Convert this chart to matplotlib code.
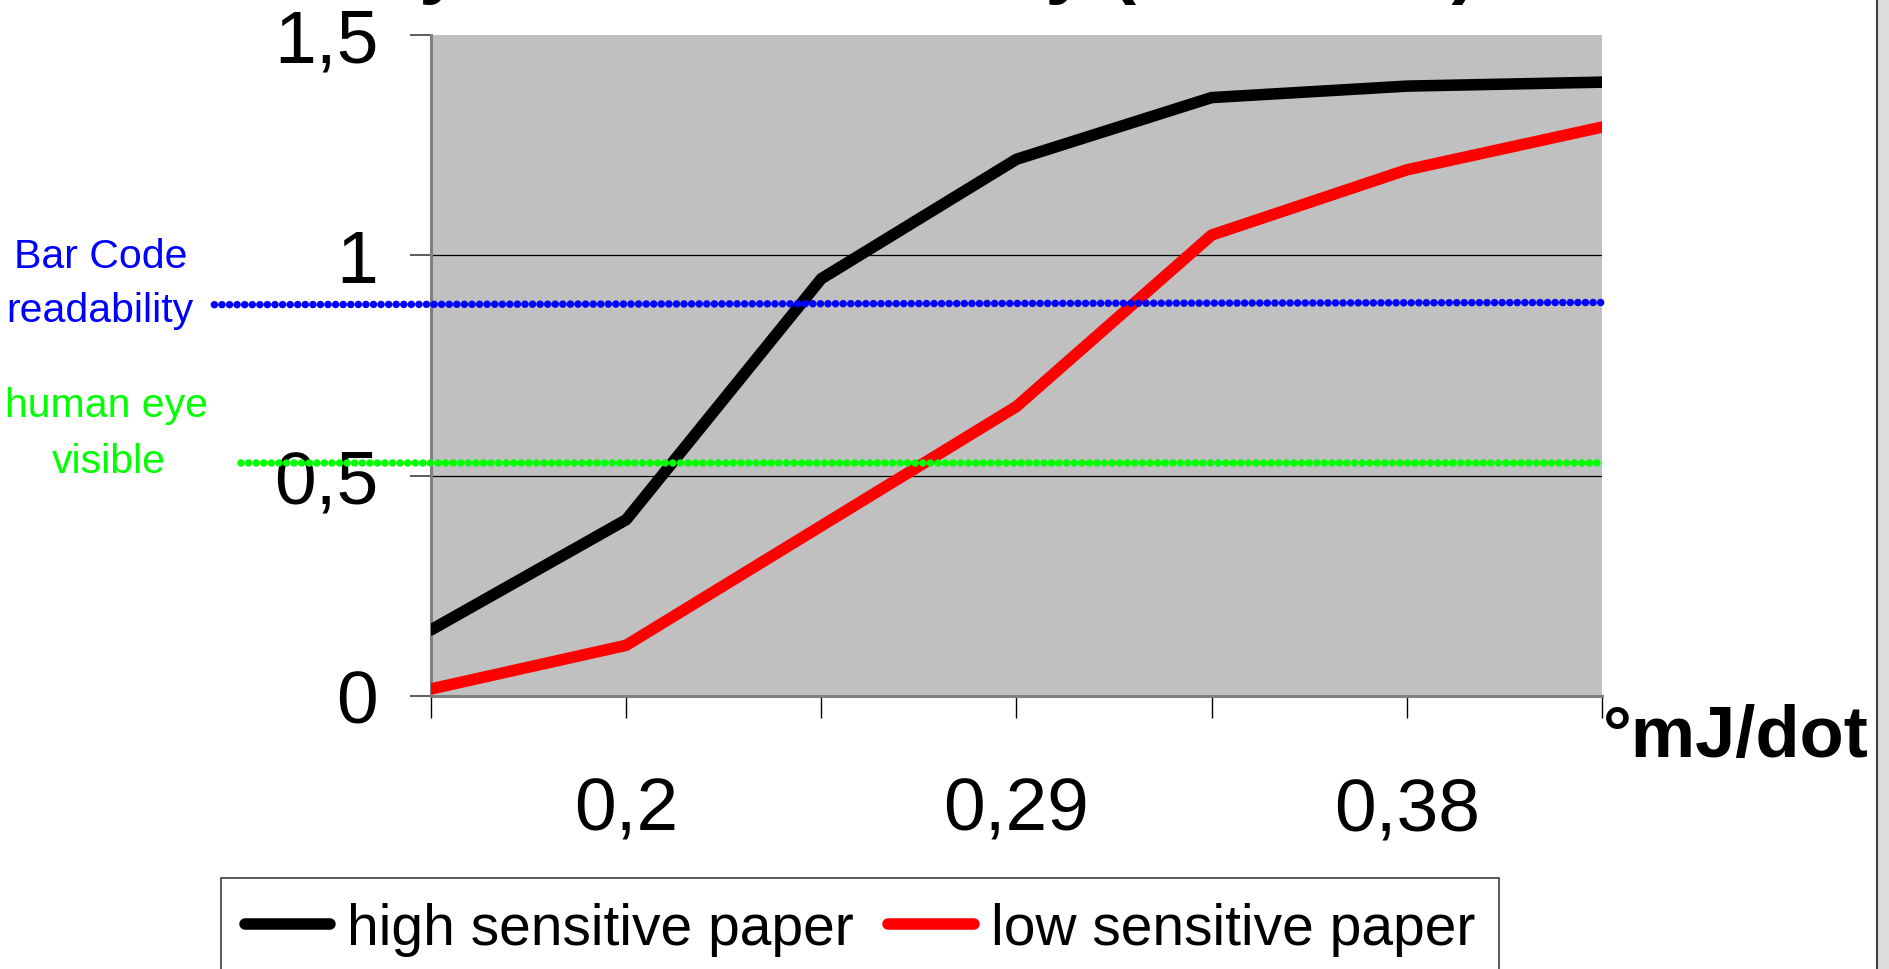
import matplotlib
matplotlib.use('Agg')
import matplotlib.pyplot as plt
from matplotlib.lines import Line2D
from matplotlib.patches import Rectangle

plt.rcParams['font.family'] = ['Liberation Sans', 'DejaVu Sans']

# data
x_pos = [0, 1, 2, 3, 4, 5, 6]
x_labels = ['', '0,2', '', '0,29', '', '0,38', '']
high_sensitive = [0.15, 0.40, 0.947, 1.218, 1.358, 1.384, 1.393]
low_sensitive = [0.016, 0.115, 0.386, 0.657, 1.046, 1.194, 1.291]
y_ticks = [0, 0.5, 1, 1.5]
y_labels = ['0', '0,5', '1', '1,5']

# threshold levels (dotted lines), start in axes fraction
barcode_level = [0.888, 0.893]
eye_level = [0.529, 0.529]
barcode_start = -0.185
eye_start = -0.162

W, H = 1890, 970
fig = plt.figure(figsize=(W / 100, H / 100), dpi=100)
ax = fig.add_axes([431 / W, 1 - 697 / H, 1171 / W, 661 / H])
ax.set_facecolor('#C0C0C0')
ax.set_xlim(0, 6)
ax.set_ylim(0, 1.5)

for s in ['top', 'right']:
    ax.spines[s].set_visible(False)
for s in ['left', 'bottom']:
    ax.spines[s].set_color('#808080')
    ax.spines[s].set_linewidth(2.2)

ax.set_yticks(y_ticks, y_labels, fontsize=54)
ax.set_xticks(x_pos, x_labels, fontsize=54)
ax.tick_params(axis='y', length=15, width=1.2, color='#404040', pad=23)
ax.tick_params(axis='x', length=16, width=1, color='black', pad=41)

for yv in y_ticks[1:-1]:
    ax.axhline(yv, color='black', linewidth=0.9, zorder=1)

ax.plot(x_pos, high_sensitive, color='black', lw=8.3, solid_capstyle='round', zorder=3)
ax.plot(x_pos, low_sensitive, color='red', lw=8.3, solid_capstyle='round', zorder=3)

ytr = ax.get_yaxis_transform()
ax.plot([barcode_start, 1], barcode_level, transform=ytr, color='blue', lw=5.4,
        linestyle=(0, (0.01, 1.0)), dash_capstyle='round', clip_on=False, zorder=4)
ax.plot([eye_start, 1], eye_level, transform=ytr, color='#00FF00', lw=5.4,
        linestyle=(0, (0.01, 1.0)), dash_capstyle='round', clip_on=False, zorder=4)

fig.text(101 / W, 1 - 268 / H, 'Bar Code', color='blue', fontsize=29.5, ha='center', va='baseline')
fig.text(100 / W, 1 - 322 / H, 'readability', color='blue', fontsize=29.5, ha='center', va='baseline')
fig.text(107 / W, 1 - 417 / H, 'human eye', color='#00FF00', fontsize=29.5, ha='center', va='baseline')
fig.text(109 / W, 1 - 473 / H, 'visible', color='#00FF00', fontsize=29.5, ha='center', va='baseline')

fig.text(1603 / W, 1 - 757 / H, '°mJ/dot', fontsize=52, weight='bold', ha='left', va='baseline')

# title, mostly above the top edge
fig.text(0.487, 1 + 11 / H, 'Dynamic sensitivity (Macbeth)', fontsize=56, weight='bold',
         ha='center', va='baseline')

handles = [Line2D([], [], color='black', lw=8.3, solid_capstyle='round'),
           Line2D([], [], color='red', lw=8.3, solid_capstyle='round')]
leg = fig.legend(handles, ['high sensitive paper', 'low sensitive paper'],
                 loc='upper left', bbox_to_anchor=(221 / W, 1 - 879 / H), ncol=2,
                 fontsize=41, frameon=True, fancybox=False, edgecolor='#404040',
                 framealpha=1, handlelength=1.5, handletextpad=0.3,
                 columnspacing=0.6, borderpad=0.42, borderaxespad=0)
leg.get_frame().set_linewidth(1.2)

fig.add_artist(Rectangle((1877 / W, -0.01), 20 / W, 1.02, transform=fig.transFigure,
                         facecolor='#DDDDDD', edgecolor='#404040', lw=1.5))

fig.savefig('out.png', dpi=100)
